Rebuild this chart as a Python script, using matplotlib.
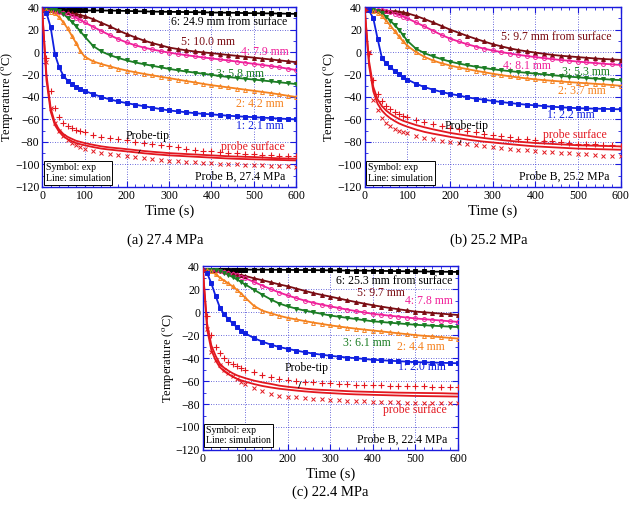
import matplotlib.pyplot as plt

plt.rcParams['font.family'] = ['Liberation Serif', 'DejaVu Serif']
plt.rcParams['mathtext.fontset'] = 'stix'

# time points (s): every 10 s up to 100 s, then every 20 s
t = [0, 10, 20, 30, 40, 50, 60, 70, 80, 90, 100,
     120, 140, 160, 180, 200, 220, 240, 260, 280, 300, 320, 340, 360, 380, 400,
     420, 440, 460, 480, 500, 520, 540, 560, 580, 600]

# ---- (a) 27.4 MPa ----
a_s6 = [37, 37, 37, 37, 37, 37, 37, 37, 37, 37, 37,
        37, 37, 36.9, 36.8, 36.6, 36.4, 36.2, 36, 35.9, 35.8, 35.7, 35.6, 35.5, 35.4, 35.2,
        35.1, 35, 34.9, 34.7, 34.6, 34.5, 34.4, 34.3, 34.1, 34]
a_s5 = [37, 37, 37, 36.8, 36.5, 36, 35.5, 34.8, 34, 33, 32,
        29.3, 26, 22.8, 19.2, 16, 13, 10.3, 8, 6, 4, 2.7, 1.5, 0.5, -0.3, -1,
        -1.8, -2.6, -3.4, -4.2, -5, -5.8, -6.6, -7.4, -8.2, -9]
a_s4 = [37, 37, 37, 36.5, 35.8, 35, 34, 32.3, 30.5, 28.5, 26.5,
        22.5, 18.7, 15, 11.5, 8.5, 6, 4, 2.3, 0.8, -0.5, -1.7, -2.8, -3.8, -4.8, -5.7,
        -6.6, -7.5, -8.5, -9.5, -10.5, -11.5, -12.5, -13.5, -14.8, -16]
a_s3 = [37, 37, 37, 37, 36.5, 34, 30.5, 27, 23, 18.5, 14,
        5.5, 0.5, -2.8, -5.3, -7.5, -9.3, -10.8, -12.2, -13.6, -15, -16.2, -17.3, -18.3, -19.3, -20.3,
        -21.3, -22.3, -23, -23.8, -24.5, -25.3, -26.1, -26.9, -27.7, -28.5]
a_s2 = [37, 37, 36, 34.5, 31, 26.5, 21, 14.5, 8, 1, -4,
        -8.3, -10.7, -12.8, -14.8, -16.5, -18, -19.4, -20.7, -22, -23.2, -24.5, -25.8, -27, -28.3, -29.5,
        -30.5, -31.5, -32.5, -33.5, -34.5, -35.5, -36.5, -37.7, -38.9, -40]
a_s1 = [37, 35, 22, -2, -13.5, -21, -25.5, -28.5, -31, -33, -34.5,
        -37.4, -40, -42.2, -44, -45.5, -46.9, -48.2, -49.5, -50.8, -52, -52.8, -53.6, -54.4, -55, -55.5,
        -56.1, -56.7, -57.2, -57.6, -58, -58.4, -58.8, -59.2, -59.6, -60]
a_tip_sim = [37, -20, -50, -63, -69, -73, -75.5, -77.3, -79, -80, -81,
             -82.6, -84, -85, -85.7, -86.5, -87.3, -88.1, -88.8, -89.4, -90, -90.4, -90.8, -91.2, -91.6, -92,
             -92.4, -92.8, -93.1, -93.3, -93.5, -93.9, -94.3, -94.6, -94.8, -95]
a_tip_exp = [37, -5, -35, -50, -58, -63, -66, -67.7, -69, -70, -71,
             -73.5, -75.3, -76.6, -77.7, -78.5, -79.7, -80.9, -82, -83, -84, -85, -86, -87, -87.8, -88.5,
             -89.1, -89.6, -90, -90.5, -91, -91.4, -91.8, -92.2, -92.6, -93]
a_srf_sim = [37, -25, -53, -65, -71, -75, -77.5, -79.4, -81, -82.1, -83,
             -84.6, -86, -86.9, -87.7, -88.5, -89.3, -90.1, -90.8, -91.4, -92, -92.4, -92.8, -93.2, -93.6, -94,
             -94.4, -94.8, -95.1, -95.3, -95.5, -95.7, -95.9, -96.1, -96.3, -96.5]
a_srf_exp = [37, -9, -50, -63, -70, -75, -78, -80.7, -83, -84.6, -86,
             -88, -89.5, -90.7, -91.9, -93, -93.8, -94.5, -95.3, -96.2, -97, -97.4, -97.8, -98.2, -98.6, -99,
             -99.4, -99.8, -100.1, -100.4, -100.7, -101, -101.3, -101.6, -101.8, -102]

# ---- (b) 25.2 MPa ----
b_s5 = [37, 37, 37, 37, 37, 36.8, 36.5, 36.3, 36, 35.3, 34.5,
        32.2, 29.4, 26.4, 23.2, 20, 17.2, 14.4, 11.8, 9.4, 7, 5.1, 3.3, 1.8, 0.6, -0.5,
        -1.5, -2.5, -3.3, -3.9, -4.5, -5.1, -5.7, -6.2, -6.6, -7]
b_s4 = [37, 37, 37, 37, 37, 36.5, 35.5, 34.3, 33, 31.5, 30,
        26.4, 22.8, 19, 15.2, 12, 9.4, 7, 4.9, 3, 1.4, 0, -1.3, -2.5, -3.5, -4.5,
        -5.4, -6.3, -7.1, -7.8, -8.5, -9.2, -9.8, -10.4, -11, -11.5]
b_s3 = [37, 37, 37, 36.5, 35, 31.5, 28, 24, 20, 15, 10,
        3, -1, -3.8, -6.3, -8.5, -10.2, -11.7, -13, -14.2, -15.3, -16.2, -17, -17.8, -18.5, -19.2,
        -19.9, -20.6, -21.3, -21.9, -22.5, -23.1, -23.6, -24.1, -24.6, -25]
b_s2 = [37, 37, 36.5, 35, 32.5, 28, 23.5, 18.8, 14, 9.5, 5.5,
        0, -4.3, -7.5, -10, -12, -13.7, -15.2, -16.6, -18, -19.3, -20.5, -21.6, -22.6, -23.5, -24.3,
        -25, -25.6, -26.2, -26.8, -27.3, -27.8, -28.3, -28.8, -29.4, -30]
b_s1 = [37, 37, 30, 12, -5, -10, -13.5, -16.8, -19.5, -22.2, -24.5,
        -28.2, -31.2, -33.5, -35.5, -37.3, -38.6, -40.3, -41.5, -42.5, -43.5, -44.5, -45.4, -46.2, -46.9, -47.5,
        -48.1, -48.7, -49.2, -49.6, -50, -50.2, -50.4, -50.6, -50.8, -51]
b_tip_sim = [37, -8, -31, -42, -48, -52, -55, -57.4, -59.5, -61.2, -62.5,
             -65, -67, -68.8, -70.4, -72, -73.2, -74.4, -75.6, -76.6, -77.5, -78.3, -79.1, -79.8, -80.4, -81,
             -81.4, -81.8, -82.2, -82.6, -83, -83.2, -83.4, -83.6, -83.8, -84]
b_tip_exp = [37, -2, -25, -37, -44, -48, -51, -53.2, -55, -56.6, -58,
             -60.5, -62.6, -64.3, -66, -67.5, -68.9, -70.3, -71.6, -72.8, -74, -75, -76, -77, -77.8, -78.5,
             -79.1, -79.6, -80.2, -80.8, -81.5, -81.9, -82.3, -82.7, -83.1, -83.5]
b_srf_sim = [37, -12, -35, -46, -52, -56, -59, -61.4, -63.5, -65.1, -66.5,
             -69, -71.1, -72.7, -74.1, -75.5, -76.7, -77.9, -78.9, -79.8, -80.5, -81.3, -82, -82.7, -83.4, -84,
             -84.4, -84.8, -85.2, -85.6, -86, -86.2, -86.4, -86.6, -86.8, -87]
b_srf_exp = [37, 0, -43, -52, -59, -63.5, -66, -68.2, -70, -71.4, -72.5,
             -74.6, -76.2, -77.5, -78.8, -80, -81, -82, -82.9, -83.7, -84.5, -85.3, -86.1, -86.9, -87.5, -88,
             -88.6, -89.2, -89.7, -90.1, -90.5, -91.1, -91.7, -92.2, -92.6, -93]

# ---- (c) 22.4 MPa ----
c_s6 = [37, 37, 37, 37, 37, 37, 37, 37, 37, 37, 37,
        37, 37, 36.9, 36.9, 36.8, 36.7, 36.7, 36.6, 36.5, 36.4, 36.3, 36.2, 36.2, 36.1, 36,
        35.9, 35.8, 35.7, 35.6, 35.5, 35.4, 35.3, 35.2, 35.1, 35]
c_s5 = [37, 37, 37, 36.8, 36.3, 35.5, 34.7, 33.8, 33, 32.3, 31.5,
        29.5, 27.8, 26, 24.1, 22.5, 20.5, 18.5, 16.6, 15, 13.5, 11.9, 10.3, 8.8, 7.4, 6,
        4.8, 3.6, 2.5, 1.5, 0.5, -0.1, -0.7, -1.3, -1.9, -2.5]
c_s4 = [37, 37, 37, 36.5, 36, 35, 34.3, 33.3, 32.3, 31, 29.5,
        26.3, 23.1, 20, 17.1, 14.5, 12.2, 10, 8.1, 6.5, 5, 3.6, 2.2, 0.9, -0.3, -1.5,
        -2.3, -3.1, -3.9, -4.7, -5.5, -6.1, -6.7, -7.3, -7.9, -8.5]
c_s3 = [37, 37, 37, 36.5, 35.5, 34.5, 32.5, 30.5, 28.5, 26.3, 24,
        19.6, 15.2, 11, 7.5, 5, 3, 1.3, -0.1, -1.5, -3, -4, -5, -6, -7, -8,
        -8.6, -9.2, -9.8, -10.4, -11, -11.4, -11.8, -12.2, -12.6, -13]
c_s2 = [37, 36.5, 35.5, 33, 30, 27.5, 25, 22.4, 19.5, 16.2, 12.5,
        5.5, 1.3, -1, -3.2, -5, -6.4, -7.8, -9.1, -10.3, -11.5, -12.5, -13.5, -14.4, -15.2, -16,
        -16.8, -17.6, -18.4, -19.2, -20, -20.6, -21.2, -21.8, -22.4, -23]
c_s1 = [37, 34, 25, 14, 4, -2, -6, -9.7, -13, -16, -18.5,
        -22.6, -25.7, -28.3, -30.4, -32, -33.5, -34.9, -36.1, -37.1, -38, -38.8, -39.5, -40.1, -40.8, -41.5,
        -41.9, -42.3, -42.7, -43.1, -43.5, -43.7, -43.9, -44.1, -44.3, -44.5]
c_tip_sim = [37, -10, -29, -38, -45, -48.5, -51, -53.2, -55, -56.3, -57.5,
             -59.6, -61.2, -62.5, -64, -65, -65.8, -66.6, -67.3, -67.7, -68, -68.4, -68.8, -69.1, -69.3, -69.5,
             -69.7, -69.9, -70.1, -70.2, -70.3, -70.4, -70.5, -70.6, -70.8, -71]
c_tip_exp = [37, -3, -20, -30, -36, -40, -43, -45.2, -47, -48.6, -50,
             -52.4, -54.5, -56.2, -57.8, -59, -59.8, -60.5, -61.1, -61.6, -62, -62.4, -62.8, -63.1, -63.3, -63.5,
             -63.7, -63.9, -64.1, -64.3, -64.5, -64.7, -64.9, -65.1, -65.3, -65.5]
c_srf_sim = [37, -15, -33, -42, -48, -51.5, -54, -56.2, -58, -59.4, -60.5,
             -62.6, -64.3, -65.6, -66.7, -67.5, -68.3, -69, -69.6, -70.1, -70.5, -70.9, -71.3, -71.6, -71.8, -72,
             -72.2, -72.4, -72.6, -72.8, -73, -73.1, -73.2, -73.3, -73.4, -73.5]
c_srf_exp = [37, -15, -35, -42, -46, -50, -53, -55.6, -58, -60.6, -63,
             -66, -68.8, -71, -72.6, -73.5, -74.3, -75, -75.5, -76, -76.5, -76.9, -77.3, -77.6, -77.8, -78,
             -78.2, -78.4, -78.6, -78.8, -79, -79.1, -79.2, -79.3, -79.4, -79.5]

BLACK = 'black'
MAROON = '#7a0c12'
MAGENTA = '#f0209a'
GREEN = '#1b7d24'
ORANGE = '#f5821f'
BLUE = '#1020e0'
RED = '#e3171f'
FRAME = '#1a1adc'

fig = plt.figure(figsize=(6.3, 5.09), dpi=100)


def sensor(ax, y, color, marker, mfc=None, ms=2.8):
    ax.plot(t, y, color=color, lw=1.3, zorder=3)
    ax.plot(t, y, ls='none', marker=marker, ms=ms, mec=color,
            mfc=color if mfc is None else mfc, mew=0.7, zorder=4)


def panel(rect, series, tip_sim, tip_exp, srf_sim, srf_exp, labels, tip_xy, tip_arrow, note):
    ax = fig.add_axes(rect)
    ax.set_xlim(0, 600)
    ax.set_ylim(-120, 40)
    ax.set_xticks(range(0, 601, 100))
    ax.set_yticks(range(-120, 41, 20))
    ax.set_xticks(range(0, 601, 20), minor=True)
    ax.set_yticks(range(-120, 41, 10), minor=True)
    ax.grid(True, which='major', color='#3a3ad0', ls=(0, (1, 2)), lw=0.6)
    for s in ax.spines.values():
        s.set_color(FRAME)
        s.set_linewidth(1.0)
    ax.tick_params(which='both', direction='in', top=True, right=True, color=FRAME,
                   labelsize=8.5, pad=2)
    ax.tick_params(which='major', length=4)
    ax.tick_params(which='minor', length=2)
    ax.set_xlabel('Time (s)', fontsize=10.5, labelpad=2)
    ax.set_ylabel(r'Temperature ($^{\rm o}$C)', fontsize=9, labelpad=0)

    for y, color, marker, mfc in series:
        sensor(ax, y, color, marker, mfc)

    ax.plot(t, tip_sim, color=RED, lw=1.3, zorder=3)
    ax.plot(t, srf_sim, color=RED, lw=1.3, zorder=3)
    ax.plot(t, tip_exp, ls='none', marker='+', ms=3.8, mec=RED, mew=0.8, zorder=4)
    ax.plot(t, srf_exp, ls='none', marker='x', ms=3.2, mec=RED, mew=0.7, zorder=4)

    for txt, x, y, color in labels:
        ax.text(x, y, txt, color=color, fontsize=8.5, ha='right', va='center', zorder=6)

    ax.annotate('Probe-tip', xy=tip_arrow, xytext=tip_xy, fontsize=8.5, ha='center', va='center',
                arrowprops=dict(arrowstyle='-', color='black', lw=0.6, shrinkA=4, shrinkB=0),
                zorder=6)
    ax.text(575, -111, note, fontsize=8.5, ha='right', va='center', zorder=6)
    ax.text(8, -107.5, 'Symbol: exp\nLine: simulation', fontsize=7, ha='left', va='center',
            linespacing=1.25, zorder=6,
            bbox=dict(boxstyle='square,pad=0.2', fc='white', ec='black', lw=0.7))
    return ax


series_a = [(a_s6, BLACK, 's', None), (a_s5, MAROON, '^', None), (a_s4, MAGENTA, 'o', 'none'),
            (a_s3, GREEN, 'v', None), (a_s2, ORANGE, '^', 'none'), (a_s1, BLUE, 's', None)]
labels_a = [('6: 24.9 mm from surface', 579, 26.7, BLACK), ('5: 10.0 mm', 456, 8.9, MAROON),
            ('4: 7.9 mm', 582, 0, MAGENTA), ('3: 5.8 mm', 523, -19.3, GREEN),
            ('2: 4.2 mm', 570, -46.5, ORANGE), ('1: 2.1 mm', 570, -66, BLUE),
            ('probe surface', 574, -84.4, RED)]
panel([0.067, 0.633, 0.403, 0.353], series_a, a_tip_sim, a_tip_exp, a_srf_sim, a_srf_exp,
      labels_a, (248, -75), (228, -90), 'Probe B, 27.4 MPa')

series_b = [(b_s5, MAROON, '^', None), (b_s4, MAGENTA, 'o', 'none'),
            (b_s3, GREEN, 'v', None), (b_s2, ORANGE, '^', 'none'), (b_s1, BLUE, 's', None)]
labels_b = [('5: 9.7 mm from surface', 578, 13.3, MAROON), ('4: 8.1 mm', 437, -12, MAGENTA),
            ('3: 5.3 mm', 574, -17.8, GREEN), ('2: 3.7 mm', 565, -34.7, ORANGE),
            ('1: 2.2 mm', 539, -56.3, BLUE), ('probe surface', 568, -74, RED)]
panel([0.579, 0.633, 0.406, 0.353], series_b, b_tip_sim, b_tip_exp, b_srf_sim, b_srf_exp,
      labels_b, (238, -66), (222, -82), 'Probe B, 25.2 MPa')

series_c = [(c_s6, BLACK, 's', None), (c_s5, MAROON, '^', None), (c_s4, MAGENTA, 'o', 'none'),
            (c_s3, GREEN, 'v', None), (c_s2, ORANGE, '^', 'none'), (c_s1, BLUE, 's', None)]
labels_c = [('6: 25.3 mm from surface', 587, 27.2, BLACK), ('5: 9.7 mm', 474, 16.8, MAROON),
            ('4: 7.8 mm', 587, 9.6, MAGENTA), ('3: 6.1 mm', 443, -26.7, GREEN),
            ('2: 4.4 mm', 569, -30, ORANGE), ('1: 2.0 mm', 571, -48, BLUE),
            ('probe surface', 573, -85, RED)]
panel([0.322, 0.116, 0.405, 0.361], series_c, c_tip_sim, c_tip_exp, c_srf_sim, c_srf_exp,
      labels_c, (243, -48.4), (225, -66), 'Probe B, 22.4 MPa')

fig.text(0.262, 0.527, '(a) 27.4 MPa', fontsize=10.5, ha='center', va='center')
fig.text(0.775, 0.527, '(b) 25.2 MPa', fontsize=10.5, ha='center', va='center')
fig.text(0.524, 0.033, '(c) 22.4 MPa', fontsize=10.5, ha='center', va='center')

fig.savefig('out.png', dpi=100)
